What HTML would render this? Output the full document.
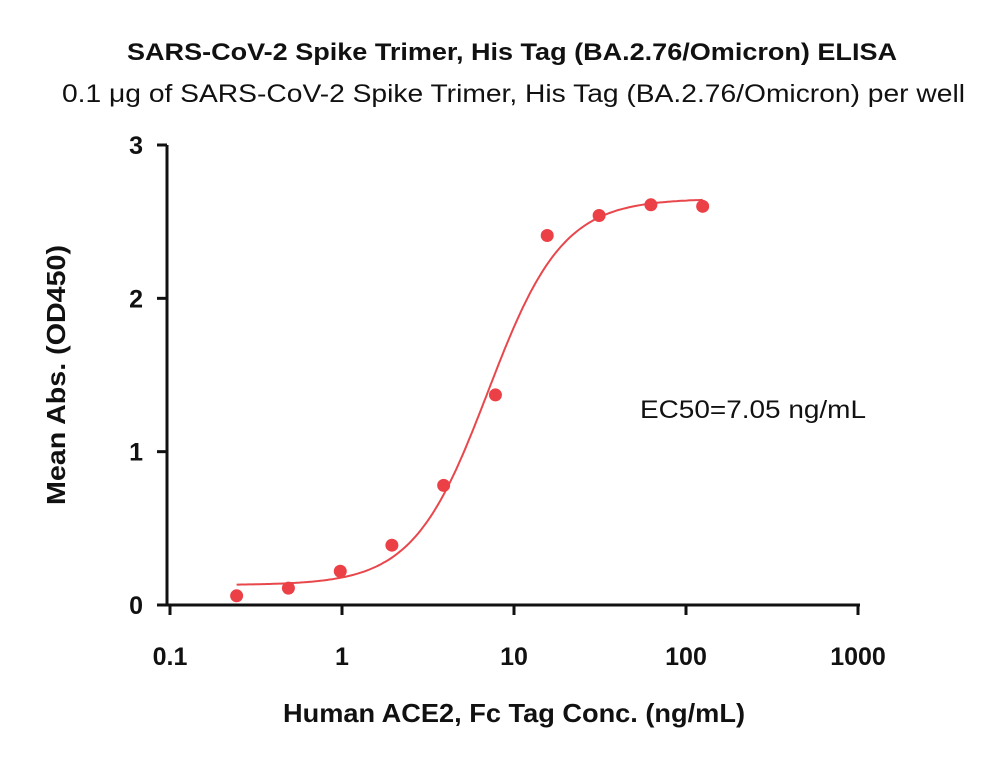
<!DOCTYPE html>
<html><head><meta charset="utf-8"><style>
body{margin:0;background:#fff;}
svg text{font-family:"Liberation Sans",sans-serif;}
</style></head><body>
<svg width="1000" height="762" viewBox="0 0 1000 762" xmlns="http://www.w3.org/2000/svg">
<text x="127" y="60" font-size="24" font-weight="bold" fill="#111" textLength="770" lengthAdjust="spacingAndGlyphs">SARS-CoV-2 Spike Trimer, His Tag (BA.2.76/Omicron) ELISA</text>
<text x="62" y="102" font-size="25" fill="#111" textLength="903" lengthAdjust="spacingAndGlyphs">0.1 μg of SARS-CoV-2 Spike Trimer, His Tag (BA.2.76/Omicron) per well</text>
<g id="axes"></g>
<g id="marks"></g>
<text x="640" y="418" font-size="25" fill="#111" textLength="226" lengthAdjust="spacingAndGlyphs">EC50=7.05 ng/mL</text>
<text x="283" y="722" font-size="26" font-weight="bold" fill="#111" textLength="462" lengthAdjust="spacingAndGlyphs">Human ACE2, Fc Tag Conc. (ng/mL)</text>
<text transform="translate(65,505) rotate(-90)" font-size="26" font-weight="bold" fill="#111" textLength="260" lengthAdjust="spacingAndGlyphs">Mean Abs. (OD450)</text>
</svg>
<script>
const concentrations=[0.244,0.488,0.977,1.95,3.9,7.8,15.6,31.25,62.5,125];
const absorbances=[0.06,0.11,0.22,0.39,0.78,1.37,2.41,2.54,2.61,2.60];
const xTicks=[0.1,1,10,100,1000];
const xTickLabels=["0.1","1","10","100","1000"];
const yTicks=[0,1,2,3];
const yTickLabels=["0","1","2","3"];
const fitBottom=0.13, fitTop=2.65, fitEC50=7.05, fitHill=2.0;

const NS="http://www.w3.org/2000/svg";
const X0=170,X1=858,Y0=605,Y1=145;
function xs(v){return X0+(Math.log10(v)+1)/4*(X1-X0);}
function ys(v){return Y0-v/3*(Y0-Y1);}
function mk(tag,attrs,parent){const e=document.createElementNS(NS,tag);for(const k in attrs)e.setAttribute(k,attrs[k]);parent.appendChild(e);return e;}
const ax=document.getElementById('axes'), mg=document.getElementById('marks');
let l=mk('line',{x1:167,y1:ys(3),x2:167,y2:Y0,stroke:'#111','stroke-width':3},ax);


l=mk('line',{x1:167,y1:Y0,x2:X1+2,y2:Y0,stroke:'#111','stroke-width':3},ax);


yTicks.forEach((t,i)=>{
  const y=ys(t);
  const tk=mk('line',{x1:157,y1:y,x2:167,y2:y,stroke:'#111','stroke-width':3},ax);
  
  
  const tx=mk('text',{x:143,y:y+9,'text-anchor':'end','font-size':25,'font-weight':'bold',fill:'#111'},ax);
  tx.textContent=yTickLabels[i];
  
  
});
xTicks.forEach((t,i)=>{
  const x=xs(t);
  const tk=mk('line',{x1:x,y1:Y0,x2:x,y2:Y0+10,stroke:'#111','stroke-width':3},ax);
  
  
  const tx=mk('text',{x:x,y:Y0+60,'text-anchor':'middle','font-size':25,'font-weight':'bold',fill:'#111'},ax);
  tx.textContent=xTickLabels[i];
  
  
});
let d='';
const lo=Math.log10(concentrations[0]),hi=Math.log10(concentrations[concentrations.length-1]);
for(let i=0;i<=200;i++){
  const c=Math.pow(10,lo+(hi-lo)*i/200);
  const v=fitBottom+(fitTop-fitBottom)/(1+Math.pow(fitEC50/c,fitHill));
  d+=(i?'L':'M')+xs(c).toFixed(1)+','+ys(v).toFixed(1);
}
const p=mk('path',{d:d,fill:'none',stroke:'#e8474c','stroke-width':2},mg);


concentrations.forEach((c,i)=>{
  const pt=mk('circle',{cx:xs(c),cy:ys(absorbances[i]),r:6.5,fill:'#ec4047'},mg);
  
  
});
</script>
</body></html>
